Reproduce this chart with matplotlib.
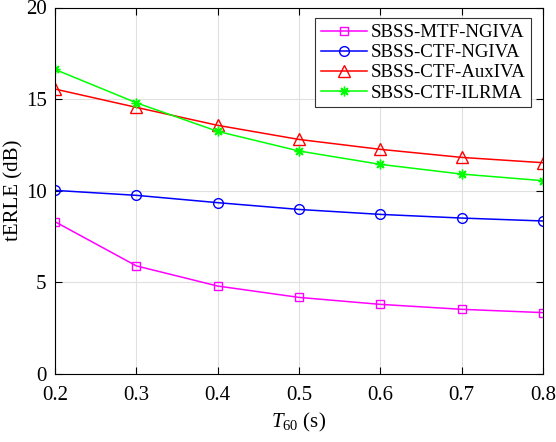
import matplotlib
matplotlib.use("Agg")
import matplotlib.pyplot as plt

plt.rcParams['font.family'] = ['Liberation Serif', 'DejaVu Serif']
plt.rcParams['mathtext.fontset'] = 'custom'
plt.rcParams['mathtext.it'] = 'Liberation Serif:italic'
plt.rcParams['mathtext.rm'] = 'Liberation Serif'

t60 = [0.2, 0.3, 0.4, 0.5, 0.6, 0.7, 0.8]
mtf_ngiva = [8.31, 5.9, 4.8, 4.18, 3.8, 3.53, 3.35]
ctf_ngiva = [10.02, 9.75, 9.35, 8.98, 8.71, 8.51, 8.35]
ctf_auxiva = [15.55, 14.55, 13.57, 12.8, 12.26, 11.82, 11.53]
ctf_ilrma = [16.62, 14.8, 13.24, 12.17, 11.44, 10.91, 10.55]
labels = ['SBSS-MTF-NGIVA', 'SBSS-CTF-NGIVA', 'SBSS-CTF-AuxIVA', 'SBSS-CTF-ILRMA']

fig = plt.figure(figsize=(5.56, 4.42), dpi=100)
ax = fig.add_axes([55/556, 68/442, (543-55)/556, (374-7.5)/442])

ax.plot(t60, mtf_ngiva, color='#ff00ff', marker='s', ms=6, mfc='none', mew=1, lw=1.1, label=labels[0])
ax.plot(t60, ctf_ngiva, color='#0000ff', marker='o', ms=7, mfc='none', mew=1, lw=1.1, label=labels[1])
ax.plot(t60, ctf_auxiva, color='#ff0000', marker='^', ms=8, mfc='none', mew=1, lw=1.1, label=labels[2])
ax.plot(t60, ctf_ilrma, color='#00ff00', marker=(8, 2, 0), ms=7, mfc='none', mew=1, lw=1.1, label=labels[3])

ax.set_xlim(0.2, 0.8)
ax.set_ylim(0, 20)
ax.set_xticks(t60)
ax.set_xticklabels(['0.2', '0.3', '0.4', '0.5', '0.6', '0.7', '0.8'])
ax.set_yticks([0, 5, 10, 15, 20])
ax.tick_params(direction='in', top=True, right=True, labelsize=15, length=5, width=0.8)
ax.tick_params(axis='x', pad=9)
ax.tick_params(axis='y', pad=6)
ax.grid(True, color='#e0e0e0', lw=0.8)
ax.set_axisbelow(True)
for s in ax.spines.values():
    s.set_linewidth(0.8)
ax.set_xlabel(r'$T_{60}$ (s)', fontsize=15, labelpad=4)
ax.set_ylabel('tERLE (dB)', fontsize=15)
ax.yaxis.set_label_coords(-0.064, 0.5)

leg = ax.legend(loc='upper right', fontsize=13.6, handlelength=2.45, labelspacing=0.15,
                borderpad=0.3, handletextpad=0.18, fancybox=False, framealpha=1,
                edgecolor='#333333', bbox_to_anchor=(0.975, 0.97), borderaxespad=0)
leg.get_frame().set_linewidth(0.8)

fig.savefig('out.png', dpi=100)
